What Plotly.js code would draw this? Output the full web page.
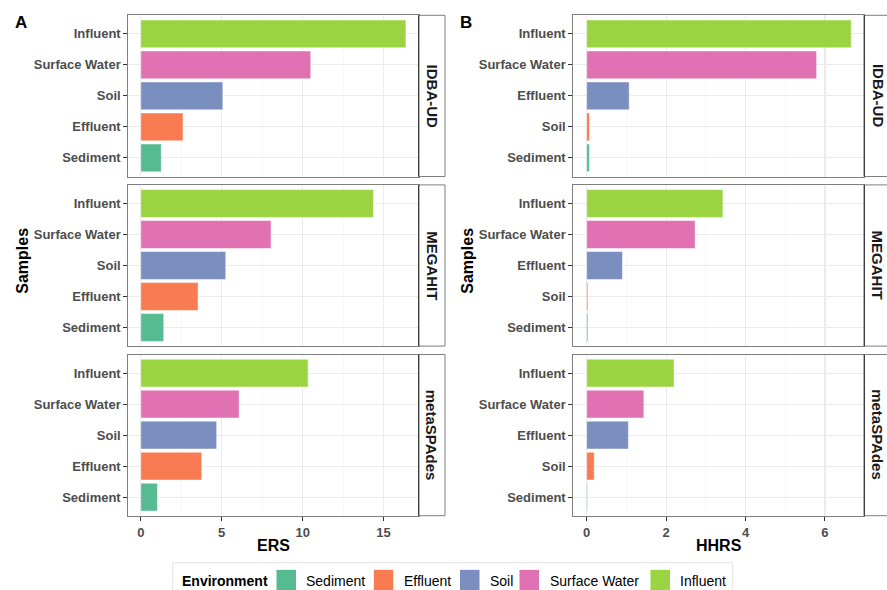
<!DOCTYPE html>
<html>
<head>
<meta charset="utf-8">
<script src="https://cdn.plot.ly/plotly-3.0.1.min.js"></script>
<style>html,body{margin:0;padding:0;background:#fff;} #chart{width:887px;height:590px;}</style>
</head>
<body>
<div id="chart"></div>
<script>
// ---------- data ----------
const assemblers = ['IDBA-UD', 'MEGAHIT', 'metaSPAdes'];
const samplesA = ['Influent', 'Surface Water', 'Soil', 'Effluent', 'Sediment'];
const samplesB = ['Influent', 'Surface Water', 'Effluent', 'Soil', 'Sediment'];
const ersIDBA = [16.38, 10.5, 5.07, 2.61, 1.27];
const ersMEGAHIT = [14.38, 8.05, 5.25, 3.54, 1.42];
const ersMetaSPAdes = [10.34, 6.08, 4.69, 3.77, 1.03];
const hhrsIDBA = [6.66, 5.79, 1.07, 0.07, 0.07];
const hhrsMEGAHIT = [3.43, 2.73, 0.90, 0.03, 0.03];
const hhrsMetaSPAdes = [2.20, 1.44, 1.05, 0.19, 0.02];
const envNames = ['Sediment', 'Effluent', 'Soil', 'Surface Water', 'Influent'];
const envColors = ['#57BB92', '#F97B52', '#7B8EC0', '#E072B4', '#9AD443'];
const ticksA = [0, 5, 10, 15];
const ticksB = [0, 2, 4, 6];

// ---------- helpers ----------
const W = 887, H = 590;
const px = v => v / W;
const py = v => 1 - v / H;
const FONT = 'Liberation Sans, Arial, Helvetica, sans-serif';
const rankColors = envColors.slice().reverse(); // top bar -> bottom bar

const facetTops = [15.3, 184.9, 354.5];
const facetH = 161.2;
const panels = [
  {samples: samplesA, series: [ersIDBA, ersMEGAHIT, ersMetaSPAdes], x0: 128.3, x1: 418.7, range: [-0.77, 17.17], dtick: 5, ticks: ticksA, title: 'ERS', label: 'A', labelX: 20.5, samplesX: 21.7},
  {samples: samplesB, series: [hhrsIDBA, hhrsMEGAHIT, hhrsMetaSPAdes], x0: 573.3, x1: 864.3, range: [-0.337, 6.99], dtick: 2, ticks: ticksB, title: 'HHRS', label: 'B', labelX: 466, samplesX: 466.7}
];

const traces = [];
const layout = {
  width: W, height: H,
  margin: {l: 0, r: 0, t: 0, b: 0},
  paper_bgcolor: '#fff', plot_bgcolor: '#fff',
  showlegend: false,
  bargap: 0,
  font: {family: FONT},
  shapes: [], annotations: []
};

let idx = 0;
panels.forEach((p, pi) => {
  p.series.forEach((vals, fi) => {
    idx++;
    const xa = 'xaxis' + (idx === 1 ? '' : idx);
    const ya = 'yaxis' + (idx === 1 ? '' : idx);
    const xr = 'x' + (idx === 1 ? '' : idx);
    const yr = 'y' + (idx === 1 ? '' : idx);
    traces.push({
      type: 'bar', orientation: 'h',
      x: vals, y: p.samples,
      xaxis: xr, yaxis: yr,
      width: 0.9,
      marker: {color: rankColors, line: {color: 'rgba(255,255,255,0.85)', width: 0.6}},
      hoverinfo: 'x+y'
    });
    const top = facetTops[fi], bot = top + facetH;
    const bottomFacet = fi === 2;
    layout[xa] = {
      domain: [px(p.x0), px(p.x1)], anchor: yr,
      range: p.range, tickmode: 'array', tickvals: p.ticks, ticktext: p.ticks.map(String),
      showticklabels: bottomFacet, ticks: bottomFacet ? 'outside' : '',
      ticklen: 4, tickwidth: 1, tickcolor: '#333333', ticklabelstandoff: 1,
      tickfont: {family: FONT, size: 13, color: '#4D4D4D', weight: 'bold'},
      showgrid: true, gridcolor: '#EBEBEB', gridwidth: 1.1,
      minor: {dtick: p.dtick / 2, tick0: p.dtick / 2, showgrid: true, gridcolor: '#F3F3F3', gridwidth: 0.6, ticks: ''},
      zeroline: false, showline: true, mirror: true, linecolor: '#7F7F7F', linewidth: 1,
      fixedrange: true
    };
    layout[ya] = {
      domain: [py(bot), py(top)], anchor: xr,
      type: 'category', categoryorder: 'array', categoryarray: p.samples.slice().reverse(),
      range: [-0.6, 4.6],
      ticks: 'outside', ticklen: 4, tickwidth: 1, tickcolor: '#333333',
      tickfont: {family: FONT, size: 13, color: '#4D4D4D', weight: 'bold'},
      showgrid: true, gridcolor: '#EBEBEB', gridwidth: 1.1,
      zeroline: false, showline: true, mirror: true, linecolor: '#7F7F7F', linewidth: 1,
      fixedrange: true
    };
    // strip
    const sx0 = p.x1, sx1 = p.x1 + 26.3;
    layout.shapes.push({type: 'rect', xref: 'paper', yref: 'paper', x0: px(sx0), x1: px(sx1), y0: py(bot), y1: py(top),
      fillcolor: '#FFFFFF', line: {color: '#7F7F7F', width: 1}, layer: 'above'});
    layout.shapes.push({type: 'line', xref: 'paper', yref: 'paper', x0: px(sx0), x1: px(sx0), y0: py(bot), y1: py(top),
      line: {color: '#333333', width: 1.2}, layer: 'above'});
    layout.annotations.push({xref: 'paper', yref: 'paper', x: px((sx0 + sx1) / 2 + 0.5), y: py((top + bot) / 2),
      text: '<b>' + assemblers[fi] + '</b>', showarrow: false, textangle: 90,
      font: {family: FONT, size: 15, color: '#1A1A1A'}, xanchor: 'center', yanchor: 'middle'});
  });
  // axis titles
  layout.annotations.push({xref: 'paper', yref: 'paper', x: px((p.x0 + p.x1) / 2), y: py(545),
    text: '<b>' + p.title + '</b>', showarrow: false, font: {family: FONT, size: 16, color: '#000'},
    xanchor: 'center', yanchor: 'middle'});
  layout.annotations.push({xref: 'paper', yref: 'paper', x: px(p.samplesX), y: py(261),
    text: '<b>Samples</b>', showarrow: false, textangle: -90, font: {family: FONT, size: 16, color: '#000'},
    xanchor: 'center', yanchor: 'middle'});
  layout.annotations.push({xref: 'paper', yref: 'paper', x: px(p.labelX), y: py(22.5),
    text: '<b>' + p.label + '</b>', showarrow: false, font: {family: FONT, size: 17, color: '#000'},
    xanchor: 'center', yanchor: 'middle'});
});

// ---------- legend (manual, ggplot-like) ----------
layout.shapes.push({type: 'rect', xref: 'paper', yref: 'paper', x0: px(172.7), x1: px(732.7), y0: py(600), y1: py(562.7),
  fillcolor: 'rgba(0,0,0,0)', line: {color: '#E3E3E3', width: 1}});
layout.annotations.push({xref: 'paper', yref: 'paper', x: px(180), y: py(581), text: '<b>Environment</b>', showarrow: false,
  font: {family: FONT, size: 14, color: '#000'}, xanchor: 'left', yanchor: 'middle'});
const keyX = [276, 373.3, 459.5, 519, 650];
const textX = [304.3, 401.7, 488, 548, 678];
envNames.forEach((n, i) => {
  layout.shapes.push({type: 'rect', xref: 'paper', yref: 'paper', x0: px(keyX[i]), x1: px(keyX[i] + 20.5), y0: py(591), y1: py(569.3),
    fillcolor: envColors[i], line: {color: '#FFFFFF', width: 1}});
  layout.annotations.push({xref: 'paper', yref: 'paper', x: px(textX[i]), y: py(581), text: n, showarrow: false,
    font: {family: FONT, size: 14, color: '#000'}, xanchor: 'left', yanchor: 'middle'});
});

Plotly.newPlot('chart', traces, layout, {displayModeBar: false, staticPlot: true});
</script>
</body>
</html>
